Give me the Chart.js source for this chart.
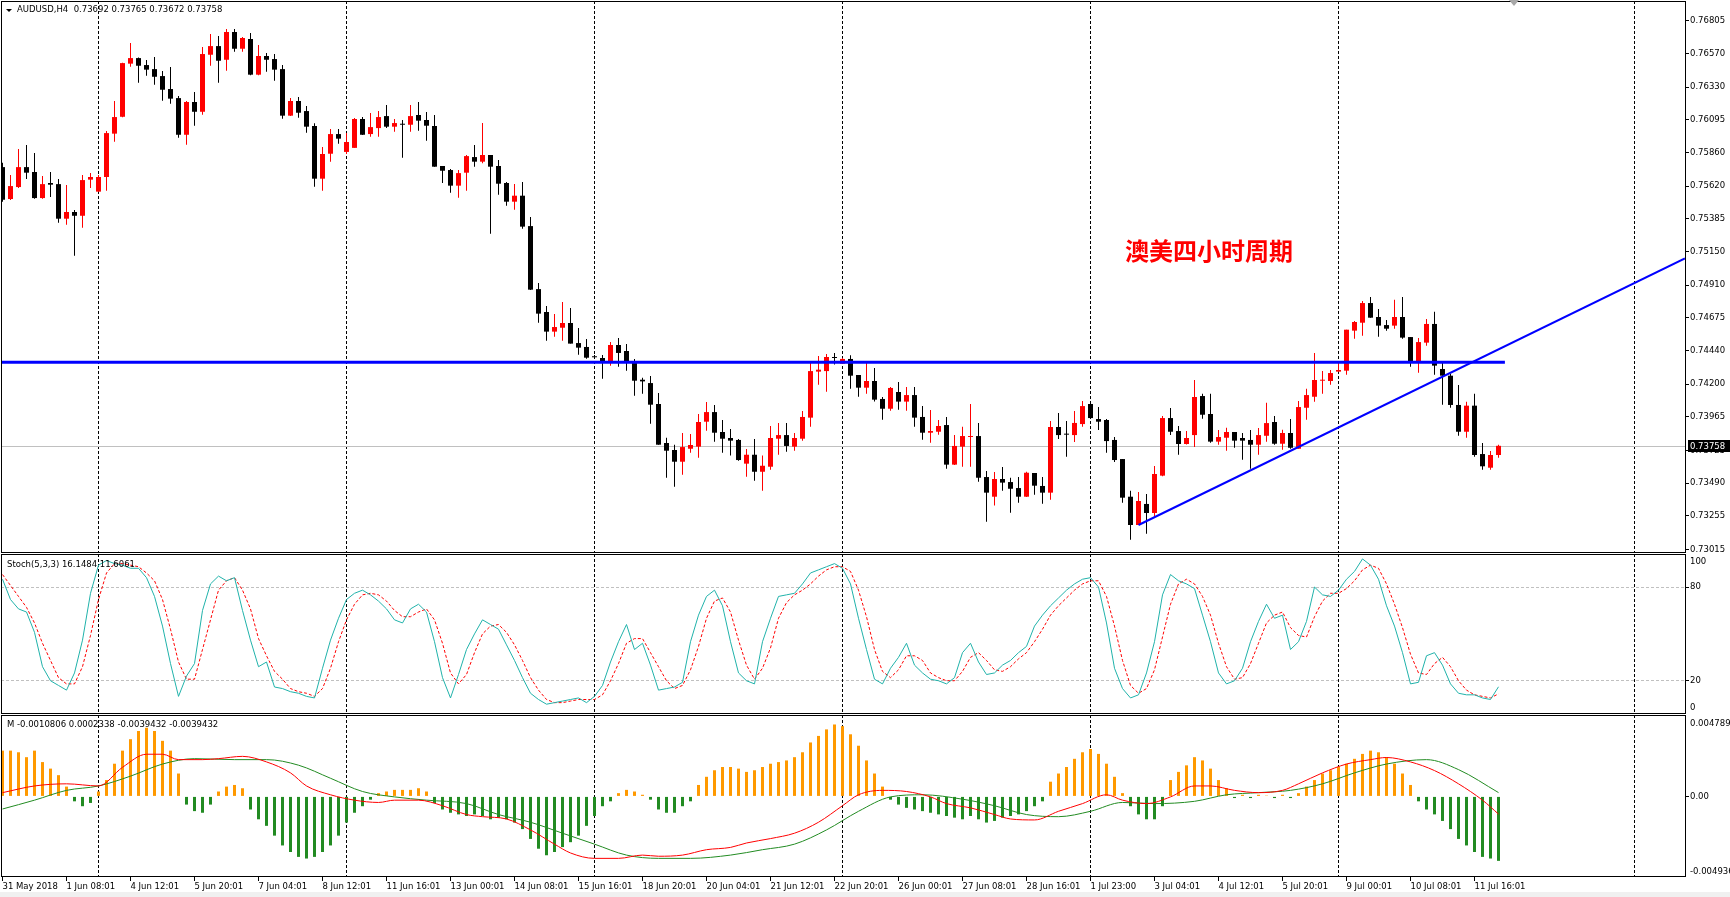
<!DOCTYPE html>
<html>
<head>
<meta charset="utf-8">
<title>AUDUSD H4</title>
<script src="https://cdn.jsdelivr.net/npm/chart.js@4.4.1/dist/chart.umd.min.js"></script>
<style>
  html, body { margin:0; padding:0; background:#fff; }
  body { width:1730px; height:897px; position:relative; overflow:hidden; }
  canvas { position:absolute; left:0; display:block; }
  .t { position:absolute; font-family:"DejaVu Sans", sans-serif; font-size:8.5px; color:#000; white-space:pre; line-height:10px; }
  #note { position:absolute; left:1125px; top:238px; font-family:"Noto Sans CJK SC", sans-serif; font-weight:700; font-size:24px; line-height:24px; color:#FF0000; white-space:nowrap; }
  #tri { position:absolute; left:6px; top:9px; width:0; height:0; border-left:3px solid transparent; border-right:3px solid transparent; border-top:3px solid #000; }
  #shift { position:absolute; left:1509px; top:0px; width:0; height:0; border-left:5px solid transparent; border-right:5px solid transparent; border-top:6px solid #A8A8A8; }
  #foot { position:absolute; left:0; top:892px; width:1730px; height:5px; background:#F0F0F0; }
</style>
</head>
<body>
<canvas id="cMain" width="1730" height="553" style="top:0px"></canvas>
<canvas id="cStoch" width="1730" height="161" style="top:553px"></canvas>
<canvas id="cMacd" width="1730" height="183" style="top:714px"></canvas>
<div id="tri"></div>
<div class="t" id="hdr" style="left:17px;top:4px"></div>
<div class="t" id="stochLbl" style="left:7px;top:559px"></div>
<div class="t" id="macdLbl" style="left:7px;top:719px"></div>
<div id="note">澳美四小时周期</div>
<div id="shift"></div>
<div id="foot"></div>
<script>
// ---------------- DATA ----------------
const symbolName = 'AUDUSD,H4';
const timeLabels = ['31 May 2018','1 Jun 08:01','4 Jun 12:01','5 Jun 20:01','7 Jun 04:01','8 Jun 12:01','11 Jun 16:01','13 Jun 00:01','14 Jun 08:01','15 Jun 16:01','18 Jun 20:01','20 Jun 04:01','21 Jun 12:01','22 Jun 20:01','26 Jun 00:01','27 Jun 08:01','28 Jun 16:01','1 Jul 23:00','3 Jul 04:01','4 Jul 12:01','5 Jul 20:01','9 Jul 00:01','10 Jul 08:01','11 Jul 16:01'];
const timeLabelBars = [0,8,16,24,32,40,48,56,64,72,80,88,96,104,112,120,128,136,144,152,160,168,176,184];
const priceTickLabels = ['0.76805','0.76570','0.76330','0.76095','0.75860','0.75620','0.75385','0.75150','0.74910','0.74675','0.74440','0.74200','0.73965','0.73725','0.73490','0.73255','0.73015'];
const weekSeparatorBars = [12,43,74,105,136,167,204];

const opens = [
0.75757,0.75528,0.75614,0.75757,0.75722,0.75535,0.75643,0.75635,0.75387,0.75435,
0.75408,0.75667,0.75581,0.75686,0.75997,0.76118,0.76499,0.76539,0.76489,0.76460,
0.76410,0.76317,0.76252,0.75989,0.76224,0.76154,0.76563,0.76625,0.76527,0.76726,
0.76606,0.76676,0.76420,0.76554,0.76532,0.76460,0.76126,0.76231,
0.76159,0.76052,0.75674,0.75853,0.75994,0.75866,0.75895,0.76102,0.75994,0.76037,
0.76123,0.76047,0.76066,0.76061,0.76131,0.76095,0.76052,0.75765,0.75736,0.75624,
0.75717,0.75829,0.75796,0.75844,0.75765,0.75643,0.75509,0.75552,0.75334,0.74882,
0.74718,0.74577,0.74605,0.74639,0.74495,0.74467,0.74400,
0.74388,0.74361,0.74481,0.74438,0.74366,0.74232,0.74208,0.74058,0.73778,0.73728,
0.73644,0.73737,0.73752,0.73931,0.74000,0.73857,0.73814,0.73800,0.73630,0.73694,
0.73572,0.73608,0.73809,0.73835,0.73752,0.73809,0.73960,0.74290,0.74294,0.74393,
0.74347,0.74381,0.74266,0.74175,0.74223,0.74094,0.74024,0.74144,
0.74075,0.74122,0.73965,0.73852,0.73859,0.73907,0.73623,0.73752,0.73821,0.73828,
0.73534,0.73393,0.73520,0.73498,0.73455,0.73393,0.73563,0.73470,0.73422,0.73893,
0.73843,0.73835,0.73914,0.74058,0.73950,0.73943,0.73800,0.73663,0.73393,0.73190,
0.73341,0.73276,0.73544,0.73957,0.73864,0.73771,0.73835,
0.74115,0.73986,0.73788,0.73816,0.73857,0.73814,0.73800,0.73766,0.73830,0.73929,
0.73773,0.73850,0.73737,0.74031,0.74110,0.74225,0.74223,0.74290,0.74297,0.74584,
0.74641,0.74782,0.74682,0.74624,0.74620,0.74682,0.74538,0.74361,0.74498,0.74632,
0.74309,0.74261,0.74051,0.73859,0.74046,0.73699,0.73601,0.73692];
const highs = [
0.75789,0.75700,0.75887,0.75915,0.75858,0.75693,0.75722,0.75671,0.75628,0.75449,
0.75700,0.75714,0.75700,0.76016,0.76231,0.76505,0.76647,0.76544,0.76525,0.76546,
0.76446,0.76475,0.76267,0.76231,0.76295,0.76618,0.76711,0.76697,0.76747,0.76747,
0.76690,0.76719,0.76632,0.76575,0.76568,0.76489,0.76252,0.76260,
0.76195,0.76071,0.75901,0.76030,0.76030,0.76001,0.76109,0.76116,0.76145,0.76159,
0.76202,0.76102,0.76095,0.76202,0.76224,0.76152,0.76131,0.75765,0.75743,0.75736,
0.75844,0.75915,0.76073,0.75844,0.75808,0.75650,0.75636,0.75650,0.75399,0.74926,
0.74761,0.74703,0.74789,0.74746,0.74603,0.74524,0.74409,
0.74409,0.74502,0.74531,0.74488,0.74381,0.74247,0.74259,0.74137,0.73816,0.73766,
0.73850,0.73843,0.73986,0.74072,0.74051,0.73943,0.73878,0.73807,0.73735,0.73807,
0.73689,0.73900,0.73921,0.73921,0.73850,0.74007,0.74359,0.74402,0.74417,0.74424,
0.74388,0.74407,0.74266,0.74359,0.74316,0.74108,0.74180,0.74215,
0.74180,0.74180,0.74043,0.74015,0.73943,0.73965,0.73835,0.73895,0.74058,0.73922,
0.73577,0.73570,0.73606,0.73529,0.73534,0.73572,0.73563,0.73534,0.73936,0.73993,
0.73936,0.74008,0.74079,0.74065,0.74036,0.73950,0.73821,0.73663,0.73436,0.73427,
0.73412,0.73613,0.73972,0.74029,0.73900,0.73864,0.74230,
0.74132,0.74132,0.73871,0.73888,0.73857,0.73850,0.73871,0.73885,0.74067,0.73972,
0.73874,0.73950,0.74079,0.74168,0.74424,0.74294,0.74302,0.74366,0.74591,0.74653,
0.74797,0.74825,0.74739,0.74660,0.74806,0.74825,0.74538,0.74531,0.74667,0.74720,
0.74359,0.74273,0.74194,0.74074,0.74132,0.73778,0.73720,0.73765];
const lows = [
0.75509,0.75521,0.75607,0.75671,0.75530,0.75530,0.75542,0.75358,0.75344,0.75121,
0.75322,0.75607,0.75581,0.75588,0.75939,0.76115,0.76477,0.76362,0.76413,0.76348,
0.76233,0.76212,0.75968,0.75918,0.76054,0.76133,0.76484,0.76362,0.76448,0.76585,
0.76585,0.76415,0.76415,0.76441,0.76377,0.76104,0.76124,0.76111,
0.76004,0.75617,0.75588,0.75796,0.75925,0.75851,0.75895,0.75987,0.75975,0.75975,
0.76037,0.76011,0.75824,0.76011,0.76018,0.75946,0.75760,0.75643,0.75573,0.75538,
0.75588,0.75760,0.75784,0.75279,0.75559,0.75480,0.75451,0.75315,0.74875,0.74641,
0.74512,0.74541,0.74512,0.74491,0.74412,0.74383,0.74385,
0.74239,0.74333,0.74325,0.74297,0.74117,0.74132,0.73917,0.73766,0.73529,0.73465,
0.73551,0.73709,0.73673,0.73866,0.73788,0.73709,0.73689,0.73651,0.73536,0.73508,
0.73436,0.73587,0.73694,0.73716,0.73723,0.73795,0.73895,0.74196,0.74146,0.74342,
0.74347,0.74168,0.74110,0.74132,0.74075,0.73945,0.74010,0.74017,
0.74010,0.73895,0.73802,0.73780,0.73838,0.73594,0.73620,0.73608,0.73608,0.73501,
0.73214,0.73329,0.73436,0.73278,0.73350,0.73390,0.73407,0.73343,0.73372,0.73807,
0.73680,0.73785,0.73895,0.73953,0.73871,0.73709,0.73642,0.73350,0.73085,0.73190,
0.73128,0.73254,0.73540,0.73835,0.73694,0.73768,0.73749,
0.73953,0.73780,0.73766,0.73723,0.73744,0.73658,0.73594,0.73694,0.73788,0.73766,
0.73730,0.73737,0.73737,0.73945,0.74074,0.74132,0.74196,0.74290,0.74268,0.74526,
0.74548,0.74677,0.74541,0.74584,0.74598,0.74526,0.74325,0.74282,0.74476,0.74268,
0.74053,0.74031,0.73830,0.73816,0.73680,0.73587,0.73587,0.73672];
const closes = [
0.75523,0.75621,0.75757,0.75717,0.75535,0.75635,0.75631,0.75387,0.75435,0.75408,
0.75664,0.75686,0.75686,0.76001,0.76116,0.76503,0.76539,0.76484,0.76456,0.76405,
0.76312,0.76248,0.75989,0.76224,0.76154,0.76568,0.76625,0.76520,0.76726,0.76606,
0.76683,0.76420,0.76554,0.76527,0.76456,0.76126,0.76231,0.76147,
0.76047,0.75674,0.75851,0.75994,0.75961,0.75937,0.76102,0.75989,0.76044,0.76116,
0.76047,0.76073,0.76061,0.76123,0.76090,0.76054,0.75760,0.75731,0.75624,0.75714,
0.75836,0.75796,0.75844,0.75760,0.75638,0.75509,0.75552,0.75330,0.74878,0.74706,
0.74577,0.74610,0.74639,0.74491,0.74462,0.74390,0.74393,
0.74361,0.74481,0.74424,0.74361,0.74225,0.74220,0.74053,0.73766,0.73723,0.73644,
0.73749,0.73764,0.73929,0.74000,0.73852,0.73809,0.73795,0.73656,0.73694,0.73572,
0.73615,0.73814,0.73835,0.73757,0.73814,0.73965,0.74294,0.74304,0.74395,0.74388,
0.74381,0.74261,0.74175,0.74223,0.74089,0.74024,0.74173,0.74075,
0.74122,0.73960,0.73852,0.73864,0.73900,0.73623,0.73757,0.73828,0.73828,0.73529,
0.73422,0.73520,0.73494,0.73450,0.73393,0.73565,0.73472,0.73422,0.73893,0.73835,
0.73838,0.73922,0.74043,0.73957,0.73931,0.73792,0.73656,0.73386,0.73190,0.73362,
0.73276,0.73556,0.73957,0.73859,0.73771,0.73814,0.74108,
0.73981,0.73788,0.73821,0.73857,0.73795,0.73795,0.73766,0.73835,0.73921,0.73773,
0.73850,0.73744,0.74036,0.74122,0.74230,0.74230,0.74280,0.74302,0.74591,0.74646,
0.74782,0.74677,0.74620,0.74598,0.74682,0.74534,0.74361,0.74502,0.74632,0.74333,
0.74261,0.74051,0.73859,0.74046,0.73692,0.73611,0.73692,0.73758];

// drawn objects (support line, trend line)
const supportLevel = 0.74357;
const supportBars = [-1, 187.8];
const trendBars = [142, 210.3];
const trendPrices = [0.73190, 0.75102];

// Stochastic (5,3,3)
const stochK = [85,72,66,64,51,29,20,17,14,25,46,76,94,97,95,94,92,92,86,74,55,31,10,23,31,65,82,87,84,86,65,46,29,32,16,15,13,12,
10,9,28,46,60,72,76,78,75,71,66,59,57,66,69,64,45,22,9,24,40,50,59,56,53,43,33,22,12,8,5,6,7,8,9,6,10,
17,32,45,56,40,44,30,14,15,16,19,45,62,74,78,68,45,25,20,18,45,60,74,75,76,82,89,91,93,95,92,82,60,40,21,18,28,35,
44,30,25,21,20,18,22,38,44,32,24,25,30,33,38,42,55,62,68,73,78,82,85,86,80,57,28,15,9,11,25,45,75,88,84,82,79,
62,45,25,18,20,28,45,58,69,60,62,40,45,58,80,75,74,78,85,90,98,94,85,68,55,38,18,19,36,38,30,18,12,11,11,9,8,16.1484];
const stochD = [88,81,74,67,57,44,33,22,18,18,29,49,72,89,95,95,94,93,89,84,72,53,32,21,21,40,59,78,84,86,78,66,47,36,26,21,15,13,
12,10,15,28,45,59,69,75,76,75,71,65,61,61,64,66,59,44,25,18,24,38,50,55,56,51,43,33,22,14,8,6,6,7,8,8,8,
11,20,31,44,47,47,38,29,20,15,17,27,42,60,71,73,64,46,30,21,28,41,60,70,75,78,82,87,91,93,93,90,78,61,40,26,22,27,
36,36,33,25,22,20,20,26,35,38,33,27,26,29,34,38,45,53,62,68,73,78,82,84,84,74,55,33,17,12,15,27,48,69,82,85,82,
74,62,44,29,21,22,31,44,57,62,64,54,49,48,61,71,76,76,79,84,91,94,92,82,69,54,37,25,24,31,35,29,20,14,11,10,9,11.6061];
const stochLevels = [20, 80];

// MACD-type panel
const macdHist = [0.0028,0.0028,0.0027,0.0024,0.0028,0.0021,0.0017,0.0013,0.0006,-0.0003,
-0.0006,-0.0004,0.0003,0.0010,0.0020,0.0028,0.0035,0.0040,0.0042,0.0040,
0.0034,0.0028,0.0014,-0.0005,-0.0009,-0.0010,-0.0005,0.0003,0.0006,0.0007,
0.0005,-0.0008,-0.0014,-0.0018,-0.0024,-0.0030,-0.0034,-0.0037,
-0.0038,-0.0037,-0.0034,-0.0030,-0.0024,-0.0016,-0.0010,-0.0006,-0.0002,0.0002,
0.0003,0.0004,0.0004,0.0004,0.0005,0.0003,-0.0004,-0.0008,-0.0010,-0.0011,
-0.0012,-0.0011,-0.0012,-0.0014,-0.0013,-0.0014,-0.0016,-0.0020,-0.0026,-0.0032,
-0.0036,-0.0034,-0.0031,-0.0028,-0.0024,-0.0018,-0.0012,
-0.0006,-0.0003,0.0002,0.0004,0.0003,0.0001,-0.0002,-0.0008,-0.0010,-0.0010,
-0.0006,-0.0003,0.0007,0.0012,0.0016,0.0018,0.0018,0.0017,0.0015,0.0016,
0.0018,0.0020,0.0021,0.0022,0.0024,0.0027,0.0033,0.0037,0.0041,0.0044,
0.0043,0.0038,0.0031,0.0022,0.0014,0.0006,-0.0002,-0.0005,
-0.0007,-0.0008,-0.0009,-0.0010,-0.0011,-0.0012,-0.0013,-0.0014,-0.0012,-0.0014,
-0.0016,-0.0015,-0.0013,-0.0012,-0.0011,-0.0009,-0.0006,-0.0003,0.0009,0.0014,
0.0018,0.0023,0.0027,0.0029,0.0026,0.0020,0.0012,0.0002,-0.0006,-0.0011,
-0.0014,-0.0014,-0.0006,0.0010,0.0015,0.0019,0.0024,
0.0022,0.0017,0.0010,0.0005,-0.0001,0.0001,-0.0001,0.0001,0.00005,-0.0001,
0.0001,-0.0001,0.0002,0.0006,0.0010,0.0014,0.0016,0.0018,0.0020,0.0023,
0.0026,0.0028,0.0027,0.0024,0.0020,0.0014,0.0007,-0.0003,-0.0008,-0.0011,
-0.0015,-0.0020,-0.0026,-0.0030,-0.0034,-0.0037,-0.0038,-0.0039432];
const macdRedBars = [0,4,8,12,15,18,20,22,25,27,30,33,36,38,41,44,47,49,52,55,58,60,63,66,69,71,74,77,80,82,85,88,91,93,96,99,102,105,107,110,113,116,118,121,124,126,129,132,135,138,140,143,146,149,151,154,157,160,162,165,168,171,173,176,179,182,185,187];
const macdRedVals = [0.00023,0.00064,0.00077,0.00064,0.00178,0.00258,0.00258,0.00225,0.00225,0.00231,0.00245,0.00211,0.00144,0.00064,0.0001,-0.00023,-0.00037,-0.00023,-0.00023,-0.00057,-0.00111,-0.00124,-0.00138,-0.00205,-0.00292,-0.00346,-0.00379,-0.00379,-0.00359,-0.00366,-0.00359,-0.00326,-0.00312,-0.00285,-0.00258,-0.00225,-0.00158,-0.00057,0.0001,0.00037,0.0003,-0.00003,-0.00044,-0.0007,-0.00111,-0.00138,-0.00144,-0.00091,-0.00044,0.0001,-0.00023,-0.00044,-0.00003,0.00064,0.00064,0.00037,0.00023,0.00037,0.00077,0.00144,0.00198,0.00225,0.00238,0.00211,0.00158,0.00077,-0.00023,-0.0010806];
const macdGreenBars = [0,4,8,12,16,20,24,29,33,37,41,45,49,53,58,62,66,70,74,78,82,86,91,95,99,103,107,111,115,120,124,128,132,136,140,144,149,153,157,161,165,169,173,178,182,187];
const macdGreenVals = [-0.00077,-0.00023,0.00037,0.00064,0.00124,0.00198,0.00231,0.00225,0.00225,0.00191,0.00111,0.0003,-0.00003,-0.00023,-0.00044,-0.00111,-0.00158,-0.00225,-0.00292,-0.00359,-0.00379,-0.00379,-0.00359,-0.00326,-0.00292,-0.00205,-0.00091,-0.00003,0.0001,-0.00017,-0.00057,-0.00111,-0.00124,-0.00091,-0.00037,-0.00044,-0.0003,0.0001,0.00023,0.00037,0.00077,0.00144,0.00198,0.00225,0.00164,0.0002338];

// ---------------- RENDER ----------------
const N = closes.length;
const bars = Array.from({length: N}, (_, i) => i);
const X_MIN = -0.1875, X_MAX = 210.3125;
const FONT = {family: 'DejaVu Sans', size: 8.5};
const BULL = '#FF0000', BEAR = '#000000';
const candleColors = bars.map(i => closes[i] > opens[i] ? BULL : BEAR);

document.getElementById('hdr').textContent = symbolName + '  ' + [opens[N-1], highs[N-1], lows[N-1], closes[N-1]].map(v => v.toFixed(5)).join(' ');
document.getElementById('stochLbl').textContent = 'Stoch(5,3,3) ' + stochK[N-1].toFixed(4) + ' ' + stochD[N-1].toFixed(4);
document.getElementById('macdLbl').textContent = 'M ' + macdRedVals[macdRedVals.length-1].toFixed(7) + ' ' + macdGreenVals[macdGreenVals.length-1].toFixed(7) + ' ' + macdHist[N-1].toFixed(7) + ' ' + macdHist[N-1].toFixed(7);

function framePlugin(h) {
  return { id: 'frame', afterDraw(c) {
    const ctx = c.ctx; ctx.save(); ctx.strokeStyle = '#000'; ctx.lineWidth = 1; ctx.setLineDash([]);
    ctx.strokeRect(1.5, 1.5, 1684, h); ctx.restore();
  }};
}
const sepPlugin = { id: 'sep', beforeDatasetsDraw(c) {
  const {ctx, chartArea: a, scales: {x}} = c;
  ctx.save(); ctx.beginPath(); ctx.rect(a.left, a.top, a.right - a.left, a.bottom - a.top); ctx.clip();
  ctx.strokeStyle = '#000'; ctx.lineWidth = 1; ctx.setLineDash([3, 2]);
  weekSeparatorBars.forEach(b => {
    const px = Math.floor(x.getPixelForValue(b)) + 0.5;
    ctx.beginPath(); ctx.moveTo(px, a.top); ctx.lineTo(px, a.bottom); ctx.stroke();
  });
  ctx.restore();
}};
const lastPricePlugin = { id: 'lastPrice',
  beforeDatasetsDraw(c) {
    const {ctx, chartArea: a, scales: {y}} = c;
    const py = Math.round(y.getPixelForValue(closes[N-1])) + 0.5;
    ctx.save(); ctx.strokeStyle = '#C0C0C0'; ctx.lineWidth = 1;
    ctx.beginPath(); ctx.moveTo(a.left, py); ctx.lineTo(a.right, py); ctx.stroke(); ctx.restore();
  },
  afterDraw(c) {
    const {ctx, chartArea: a, scales: {y}} = c;
    const py = Math.round(y.getPixelForValue(closes[N-1]));
    ctx.save(); ctx.fillStyle = '#000'; ctx.fillRect(a.right + 3, py - 6, 42, 12);
    ctx.fillStyle = '#fff'; ctx.font = '8.5px "DejaVu Sans"'; ctx.textBaseline = 'middle'; ctx.textAlign = 'left';
    ctx.fillText(closes[N-1].toFixed(5), a.right + 5, py + 0.5); ctx.restore();
  }
};
function edgeLabelPlugin(items) {
  return { id: 'edgeLbl', afterDraw(c) {
    const ctx = c.ctx; ctx.save(); ctx.fillStyle = '#000'; ctx.font = '8.5px "DejaVu Sans"';
    ctx.textBaseline = 'middle'; ctx.textAlign = 'left';
    items.forEach(it => ctx.fillText(it[0], c.chartArea.right + 5, it[1]));
    ctx.restore();
  }};
}
const baseOpts = {
  responsive: false, animation: false, devicePixelRatio: 1, events: [],
  layout: {padding: {left: 1, top: 1, right: 0, bottom: 0}},
  plugins: {legend: {display: false}, tooltip: {enabled: false}}
};
function fitY(s) { s.width = 45; s.paddingTop = 0; s.paddingBottom = 0; }
function yAxis(extra) {
  return Object.assign({
    position: 'right', afterFit: fitY,
    ticks: {font: FONT, color: '#000', padding: 1, autoSkip: false},
    grid: {drawOnChartArea: false, drawTicks: true, tickLength: 4, color: '#000'},
    border: {display: false}
  }, extra);
}
function hiddenX() {
  return {type: 'linear', min: X_MIN, max: X_MAX, display: false, offset: false, grid: {offset: false},
    afterFit: s => { s.paddingLeft = 0; s.paddingRight = 0; }};
}

// Main price chart
new Chart(document.getElementById('cMain'), {
  type: 'bar',
  data: { datasets: [
    {type: 'line', data: supportBars.map(b => ({x: b, y: supportLevel})), borderColor: '#0000FF', borderWidth: 3, pointRadius: 0, fill: false},
    {type: 'line', data: trendBars.map((b, i) => ({x: b, y: trendPrices[i]})), borderColor: '#0000FF', borderWidth: 2, pointRadius: 0, fill: false},
    {data: bars.map(i => ({x: i, y: [opens[i], closes[i]]})), backgroundColor: candleColors, barThickness: 5, minBarLength: 1, grouped: false, borderWidth: 0, inflateAmount: 0},
    {data: bars.map(i => ({x: i, y: [lows[i], highs[i]]})), backgroundColor: candleColors, barThickness: 1, minBarLength: 1, grouped: false, borderWidth: 0, inflateAmount: 0}
  ]},
  options: Object.assign({}, baseOpts, {
    scales: {
      x: hiddenX(),
      y: yAxis({min: 0.729892, max: 0.7694845,
        afterBuildTicks: s => { s.ticks = priceTickLabels.map(t => ({value: parseFloat(t)})); },
        ticks: {font: FONT, color: '#000', padding: 1, autoSkip: false, callback: (v, i) => priceTickLabels[i]}})
    }
  }),
  plugins: [sepPlugin, lastPricePlugin, framePlugin(551)]
});

// Stochastic chart
new Chart(document.getElementById('cStoch'), {
  type: 'line',
  data: { datasets: [
    {data: bars.map(i => ({x: i, y: stochK[i]})), borderColor: '#20B2AA', borderWidth: 1, pointRadius: 0, tension: 0, fill: false},
    {data: bars.map(i => ({x: i, y: stochD[i]})), borderColor: '#FF0000', borderWidth: 1, borderDash: [3, 2], pointRadius: 0, tension: 0, fill: false}
  ]},
  options: Object.assign({}, baseOpts, {
    scales: {
      x: hiddenX(),
      y: yAxis({min: -1.28, max: 101.15,
        afterBuildTicks: s => { s.ticks = stochLevels.map(v => ({value: v})); },
        ticks: {font: FONT, color: '#000', padding: 1, autoSkip: false, callback: v => String(v)},
        grid: {drawOnChartArea: true, drawTicks: true, tickLength: 4, color: '#C0C0C0', tickColor: '#000'},
        border: {display: false, dash: [3, 2]}})
    }
  }),
  plugins: [sepPlugin, edgeLabelPlugin([['100', 8.8], ['0', 154.6]]), framePlugin(159)]
});

// MACD chart
new Chart(document.getElementById('cMacd'), {
  type: 'bar',
  data: { datasets: [
    {type: 'line', data: macdRedBars.map((b, i) => ({x: b, y: macdRedVals[i]})), borderColor: '#FF0000', borderWidth: 1, pointRadius: 0, cubicInterpolationMode: 'monotone', fill: false},
    {type: 'line', data: macdGreenBars.map((b, i) => ({x: b, y: macdGreenVals[i]})), borderColor: '#228B22', borderWidth: 1, pointRadius: 0, cubicInterpolationMode: 'monotone', fill: false},
    {data: bars.map(i => ({x: i, y: macdHist[i]})), backgroundColor: bars.map(i => macdHist[i] >= 0 ? '#FF9900' : '#228B22'), barThickness: 3, grouped: false, borderWidth: 0, inflateAmount: 0}
  ]},
  options: Object.assign({}, baseOpts, {
    scales: {
      x: {type: 'linear', min: X_MIN, max: X_MAX, offset: false, position: 'bottom',
        afterBuildTicks: s => { s.ticks = timeLabelBars.map(v => ({value: v})); },
        afterFit: s => { s.height = 20; s.paddingLeft = 0; s.paddingRight = 0; },
        ticks: {autoSkip: false, maxRotation: 0, minRotation: 0, align: 'start', padding: 1, font: FONT, color: '#000',
          callback: v => timeLabels[timeLabelBars.indexOf(v)]},
        grid: {drawOnChartArea: false, drawTicks: true, tickLength: 4, color: '#000', offset: false},
        border: {display: false}},
      y: yAxis({min: -0.00493, max: 0.00498,
        afterBuildTicks: s => { s.ticks = [{value: 0}]; },
        ticks: {font: FONT, color: '#000', padding: 1, autoSkip: false, callback: () => '0.00'}})
    }
  }),
  plugins: [sepPlugin, edgeLabelPlugin([['0.004789', 9.4], ['-0.004936', 157.5]]), framePlugin(161)]
});
</script>
</body>
</html>
